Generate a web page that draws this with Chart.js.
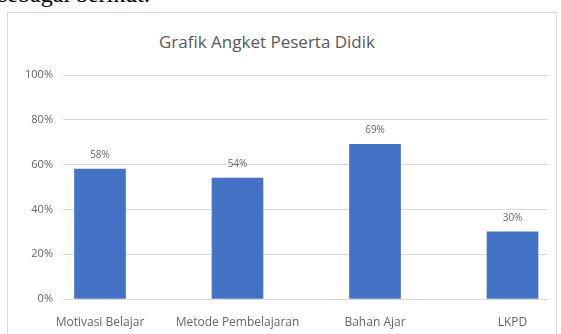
<!DOCTYPE html>
<html>
<head>
<meta charset="utf-8">
<script src="https://cdn.jsdelivr.net/npm/chart.js@4"></script>
<style>
  body { margin: 0; background: #fff; width: 561px; height: 334px; overflow: hidden; position: relative; }
  #intro { position: absolute; left: -2px; top: -18px; font: 24px "Liberation Serif", serif; line-height: 24px; color: #000; white-space: nowrap; }
  #kotak { position: absolute; left: 7px; top: 12px; width: 550px; height: 340px; border: 1px solid #d9d9d9; box-sizing: border-box; }
  #judul { position: absolute; left: 0; width: 534px; top: 30px; text-align: center; font: 17px "Open Sans", sans-serif; color: #595959; }
  #grafik { position: absolute; left: 0; top: 0; }
</style>
</head>
<body>
<div id="intro">sebagai berikut.</div>
<div id="kotak"></div>
<div id="judul">Grafik Angket Peserta Didik</div>
<canvas id="grafik" width="561" height="334"></canvas>
<script>
const kategori = ['Motivasi Belajar', 'Metode Pembelajaran', 'Bahan Ajar', 'LKPD'];
const nilai = [58, 54, 69, 30];
const tickY = [0, 20, 40, 60, 80, 100];

const warnaTeks = '#666666';

const labelNilai = {
  id: 'labelNilai',
  afterDatasetsDraw(chart) {
    const ctx = chart.ctx;
    const meta = chart.getDatasetMeta(0);
    ctx.save();
    ctx.font = '10px "Open Sans", sans-serif';
    ctx.fillStyle = warnaTeks;
    ctx.textAlign = 'center';
    ctx.textBaseline = 'middle';
    meta.data.forEach((bar, i) => {
      ctx.fillText(nilai[i] + '%', bar.x, bar.y - 14);
    });
    ctx.restore();
  }
};

new Chart(document.getElementById('grafik'), {
  type: 'bar',
  data: {
    datasets: [{
      data: nilai.map((v, i) => ({ x: i, y: v })),
      backgroundColor: '#4472C4',
      barThickness: 51
    }]
  },
  options: {
    responsive: false,
    animation: false,
    layout: { padding: { left: 0, right: 13, top: 75, bottom: 0 } },
    plugins: { legend: { display: false }, tooltip: { enabled: false } },
    scales: {
      x: {
        type: 'linear',
        offset: false,
        min: -0.269,
        max: 3.258,
        afterBuildTicks: axis => { axis.ticks = kategori.map((k, i) => ({ value: i })); },
        afterFit: axis => { axis.height = 35; },
        grid: { display: false, drawTicks: false },
        border: { display: false },
        ticks: {
          callback: v => kategori[v],
          padding: 16,
          maxRotation: 0,
          autoSkip: false,
          color: warnaTeks,
          font: { family: 'Open Sans', size: 12 }
        }
      },
      y: {
        min: 0,
        max: 100,
        afterBuildTicks: axis => { axis.ticks = tickY.map(v => ({ value: v })); },
        afterFit: axis => { axis.width = 63; },
        grid: { color: '#d9d9d9', drawTicks: false },
        border: { display: false },
        ticks: {
          callback: v => v + '%',
          padding: 10,
          color: warnaTeks,
          font: { family: 'Open Sans', size: 11 }
        }
      }
    }
  },
  plugins: [labelNilai]
});
</script>
</body>
</html>
